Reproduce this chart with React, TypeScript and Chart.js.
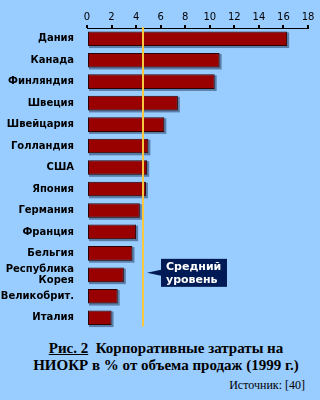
import React, { useEffect, useRef } from "react";
import { Chart, registerables } from "chart.js";

Chart.register(...registerables);

const countries: (string | string[])[] = [
  "Дания", "Канада", "Финляндия", "Швеция", "Швейцария", "Голландия", "США",
  "Япония", "Германия", "Франция", "Бельгия", ["Республика", "Корея"], "Великобрит.", "Италия",
];
const values = [16.3, 10.8, 10.4, 7.4, 6.3, 5.0, 4.9, 4.8, 4.3, 4.0, 3.7, 3.0, 2.5, 2.0];
const averageLevel = 4.6;
const calloutLines = ["Средний", "уровень"];
const calloutRow = 11;
const xTicks = { min: 0, max: 18, step: 2 };
const captionLine1Lead = "Рис. 2";
const captionLine1Rest = "  Корпоративные затраты на";
const captionLine2 = "НИОКР в % от объема продаж (1999 г.)";
const sourceText = "Источник: [40]";

const BG = "#99CCFF";

const shadowPlugin = {
  id: "barShadow",
  beforeDatasetsDraw(chart: any) {
    const ctx = chart.ctx;
    const meta = chart.getDatasetMeta(0);
    ctx.save();
    ctx.fillStyle = "#5a7ea8";
    meta.data.forEach((bar: any) => {
      const { x, y, base, height } = bar.getProps(["x", "y", "base", "height"], true);
      ctx.fillRect(base + 1, y - height / 2 + 1, x - base + 1, height + 1);
    });
    ctx.restore();
  },
};

const averagePlugin = {
  id: "averageLine",
  afterDatasetsDraw(chart: any) {
    const ctx = chart.ctx;
    const xs = chart.scales.x;
    const ys = chart.scales.y;
    const ax = Math.round(xs.getPixelForValue(averageLevel));
    const top = chart.chartArea.top - 1;
    const bottom = chart.chartArea.bottom - 2;
    ctx.save();
    ctx.strokeStyle = "#F7C840";
    ctx.lineWidth = 2;
    ctx.beginPath();
    ctx.moveTo(ax, top);
    ctx.lineTo(ax, bottom);
    ctx.stroke();

    const yc = ys.getPixelForValue(calloutRow) - 2;
    const boxL = ax + 18;
    const boxW = 66;
    const boxH = 28;
    ctx.fillStyle = "#001A55";
    ctx.fillRect(boxL, yc - boxH / 2, boxW, boxH);
    ctx.beginPath();
    ctx.moveTo(ax + 4, yc);
    ctx.lineTo(boxL, yc - 3);
    ctx.lineTo(boxL, yc + 3);
    ctx.closePath();
    ctx.fill();
    ctx.fillStyle = "#FFFFFF";
    ctx.font = "bold 11px 'DejaVu Sans'";
    ctx.textBaseline = "middle";
    ctx.textAlign = "left";
    ctx.fillText(calloutLines[0], boxL + 5, yc - 6);
    ctx.fillText(calloutLines[1], boxL + 5, yc + 7);
    ctx.restore();
  },
};

export default function App() {
  const ref = useRef<HTMLCanvasElement>(null);
  useEffect(() => {
    if (!ref.current) return;
    const chart = new Chart(ref.current, {
      type: "bar",
      data: {
        labels: countries as any,
        datasets: [
          {
            data: values,
            backgroundColor: "#990000",
            borderColor: "#2a0000",
            borderWidth: 1,
            borderSkipped: false,
            barPercentage: 0.68,
            categoryPercentage: 1,
          },
        ],
      },
      options: {
        indexAxis: "y",
        animation: false,
        responsive: false,
        maintainAspectRatio: false,
        layout: { padding: { left: 0, right: 12, top: 0, bottom: 0 } },
        plugins: { legend: { display: false }, tooltip: { enabled: false } },
        scales: {
          x: {
            position: "top",
            min: xTicks.min,
            max: xTicks.max,
            ticks: {
              stepSize: xTicks.step,
              color: "#000",
              font: { size: 10, family: "'DejaVu Sans'" },
              padding: 2,
            },
            grid: { drawOnChartArea: false, tickLength: 3, color: "#000", lineWidth: 2 },
            border: { display: true, color: "#000", dash: [1, 2], width: 1 },
            afterFit(scale: any) {
              scale.height = 28;
            },
          },
          y: {
            ticks: {
              autoSkip: false,
              color: "#000",
              font: { size: 10, weight: "bold", family: "'DejaVu Sans'", lineHeight: 1.1 },
              padding: 5,
            },
            grid: { display: false },
            border: { display: false },
            afterFit(scale: any) {
              scale.width = 87;
            },
          },
        },
      } as any,
      plugins: [shadowPlugin, averagePlugin],
    });
    return () => chart.destroy();
  }, []);

  return (
    <div style={{ position: "fixed", left: 0, top: 0, width: 320, height: 400, background: BG, overflow: "hidden" }}>
      <canvas ref={ref} width={320} height={339} style={{ display: "block", width: 320, height: 339 }} />
      <div
        style={{
          position: "absolute",
          left: 12,
          top: 340,
          width: 308,
          textAlign: "center",
          fontFamily: "'Liberation Serif', serif",
          fontWeight: "bold",
          fontSize: 15,
          lineHeight: "17px",
          color: "#000",
          whiteSpace: "pre",
        }}
      >
        <div>
          <span style={{ textDecoration: "underline" }}>{captionLine1Lead}</span>
          {captionLine1Rest}
        </div>
        <div>{captionLine2}</div>
      </div>
      <div
        style={{
          position: "absolute",
          right: 15,
          top: 378,
          fontFamily: "'Liberation Serif', serif",
          fontSize: 12,
          color: "#000",
        }}
      >
        {sourceText}
      </div>
    </div>
  );
}
